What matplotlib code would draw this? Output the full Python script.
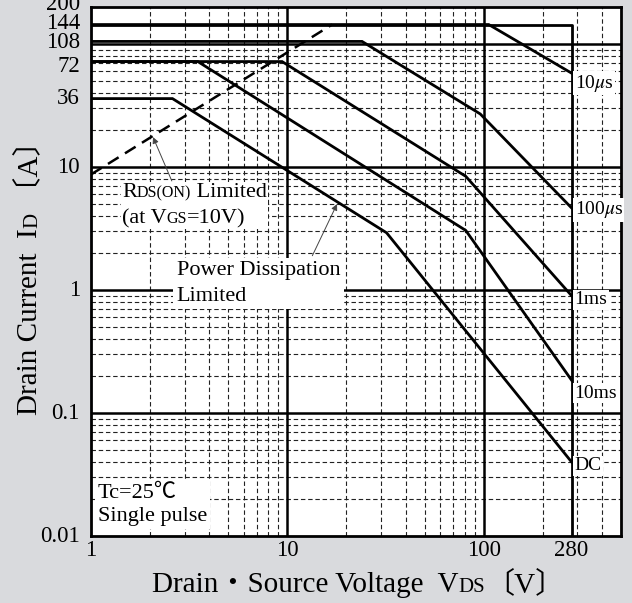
import matplotlib
matplotlib.use('Agg')
import matplotlib.pyplot as plt
from matplotlib import transforms
from matplotlib.offsetbox import TextArea, HPacker, VPacker, AnnotationBbox

# Datos (Area de operacion segura)
v_10us = [1, 106, 280]
i_10us = [144, 144, 58]
v_100us = [1, 24, 96, 280]
i_100us = [105, 105, 27, 4.65]
v_1ms = [1, 9.4, 81, 280]
i_1ms = [72, 72, 8.4, 0.90]
v_10ms = [1, 3.5, 81, 280]
i_10ms = [72, 72, 3.05, 0.185]
v_dc = [1, 2.6, 32, 280]
i_dc = [36, 36, 2.92, 0.040]
v_rds = [1, 16.9]
i_rds = [8.7, 144]
v_max = [1, 280, 280]
i_max = [144, 144, 0.01]

etiquetas = ['10$\\mu$s', '100$\\mu$s', '1ms', '10ms', 'DC']
x_ticks = [1, 10, 100, 280]
x_labels = ['1', '10', '100', '280']
y_ticks = [0.01, 0.1, 1, 10, 36, 72, 108, 144, 200]
y_labels = ['0.01', '0.1', '1', '10', '36', '72', '108', '144', '200']

SERIF = 'Liberation Serif'
CJK = 'Noto Sans CJK JP'
FUENTE = [SERIF, CJK]
plt.rcParams['font.family'] = FUENTE
plt.rcParams['mathtext.fontset'] = 'stix'


def texto_en_partes(fig, x, y, partes, rot=0):
    """Escribe las partes (texto, tamaño, familia) una detras de otra desde (x, y) en pixeles"""
    r = fig.canvas.get_renderer()
    for texto, tam, fam in partes:
        t = fig.text(x / fig.bbox.width, y / fig.bbox.height, texto, fontsize=tam, family=fam,
                     rotation=rot, rotation_mode='anchor', ha='left', va='baseline')
        bb = t.get_window_extent(r)
        if rot == 0:
            x += bb.width
        else:
            y += bb.height


def caja_texto(ax, xy, lineas, tam, pad=0.15, sep=4):
    """Caja blanca con varias lineas; cada linea es lista de (texto, chico)"""
    filas = []
    for linea in lineas:
        piezas = [TextArea(t, textprops=dict(fontsize=tam * 0.72 if chico else tam)) for t, chico in linea]
        filas.append(HPacker(children=piezas, align='baseline', pad=0, sep=0))
    paquete = VPacker(children=filas, align='left', pad=0, sep=sep)
    ab = AnnotationBbox(paquete, xy, xycoords='data', box_alignment=(0, 1), frameon=True, pad=pad,
                        bboxprops=dict(fc='white', ec='none'), zorder=5)
    ax.add_artist(ab)


fig = plt.figure(figsize=(6.32, 6.03), dpi=100, facecolor='#d9dadd')
ax = fig.add_axes([91 / 632, 1 - 536 / 603, (621 - 91) / 632, (536 - 7) / 603])
ax.set_xscale('log')
ax.set_yscale('log')
ax.set_xlim(1, 500)
ax.set_ylim(0.01, 200)

# grilla: decadas solidas, intermedias punteadas
for dec in [1, 10, 100]:
    for k in range(2, 10):
        if dec * k < 500:
            ax.axvline(dec * k, color='#222222', lw=0.8, ls=(0, (4, 2.5)), zorder=1)
    if dec > 1:
        ax.axvline(dec, color='black', lw=1.8, zorder=1.5)
for dec in [0.01, 0.1, 1, 10, 100]:
    for k in range(2, 10):
        if dec * k < 200:
            ax.axhline(dec * k, color='#222222', lw=0.8, ls=(0, (4, 2.5)), zorder=1)
    if dec > 0.01:
        ax.axhline(dec, color='black', lw=1.8, zorder=1.5)

curvas = [(v_10us, i_10us), (v_100us, i_100us), (v_1ms, i_1ms), (v_10ms, i_10ms), (v_dc, i_dc)]
for v, i in curvas:
    ax.plot(v, i, color='black', lw=2.0, zorder=3, solid_joinstyle='miter')
ax.plot(v_max, i_max, color='black', lw=2.0, zorder=3)
ax.plot(v_rds, i_rds, color='black', lw=1.8, ls=(0, (5, 3)), zorder=3)

# etiquetas de cada curva a la derecha de 280V (por encima del borde derecho)
desplaz = [-10, -2, -4, -13, -4]
for (v, i), lab, dy in zip(curvas, etiquetas, desplaz):
    ax.annotate(lab, xy=(v[-1], i[-1]), xytext=(3, dy), textcoords='offset pixels',
                fontsize=14, ha='left', va='center', annotation_clip=False, zorder=8,
                bbox=dict(fc='white', ec='none', pad=1))

caja_texto(ax, (1.44, 7.4), [[('R', False), ('DS(ON)', True), (' Limited', False)],
                             [('(at V', False), ('GS', True), ('=10V)', False)]], 16, pad=0.05, sep=5)
caja_texto(ax, (2.73, 1.72), [[('Power Dissipation', False)], [('Limited', False)]], 16, pad=0.25, sep=5)
caja_texto(ax, (1.085, 0.0265), [[('Tc=25℃', False)], [('Single pulse', False)]], 16, pad=0.2, sep=3)

flecha = dict(arrowstyle='-|>', color='#444444', lw=0.7, mutation_scale=9, shrinkA=0, shrinkB=0)
ax.annotate('', xy=(2.07, 17.5), xytext=(2.58, 7.7), arrowprops=flecha, zorder=6)
ax.annotate('', xy=(17.9, 5.0), xytext=(13.4, 1.9), arrowprops=flecha, zorder=6)

for s in ax.spines.values():
    s.set_linewidth(2)
    s.set_zorder(7)

ax.set_xticks(x_ticks, x_labels, fontsize=16.5)
ax.xaxis.set_minor_locator(matplotlib.ticker.NullLocator())
ax.yaxis.set_minor_locator(matplotlib.ticker.NullLocator())
ax.tick_params(axis='x', length=0, pad=3)
ax.set_yticks(y_ticks, [''] * len(y_ticks))
ax.tick_params(axis='y', length=0)

# etiquetas del eje y corridas un poco para que no se pisen
corr_y = [0, 0, 0, 0, 0, -5, -3, 1, 2]
for val, lab, dy in zip(y_ticks, y_labels, corr_y):
    tr = transforms.blended_transform_factory(ax.transAxes, ax.transData) + \
        transforms.ScaledTranslation(-11 / 100, dy / 100, fig.dpi_scale_trans)
    ax.text(0, val, lab, transform=tr, ha='right', va='center', fontsize=16.5, clip_on=False)

texto_en_partes(fig, 152, 11, [('Drain・Source Voltage  V', 21, FUENTE), ('DS', 15, SERIF),
                               ('〔V〕', 21, FUENTE)])
# el espacio inicial evita que el corchete rotado se corra
texto_en_partes(fig, 37, 188, [('Drain Current  I', 21, SERIF), ('D', 15, SERIF),
                               (' 〔A〕', 21, FUENTE)], rot=90)

fig.savefig('out.png', dpi=100, facecolor=fig.get_facecolor())
